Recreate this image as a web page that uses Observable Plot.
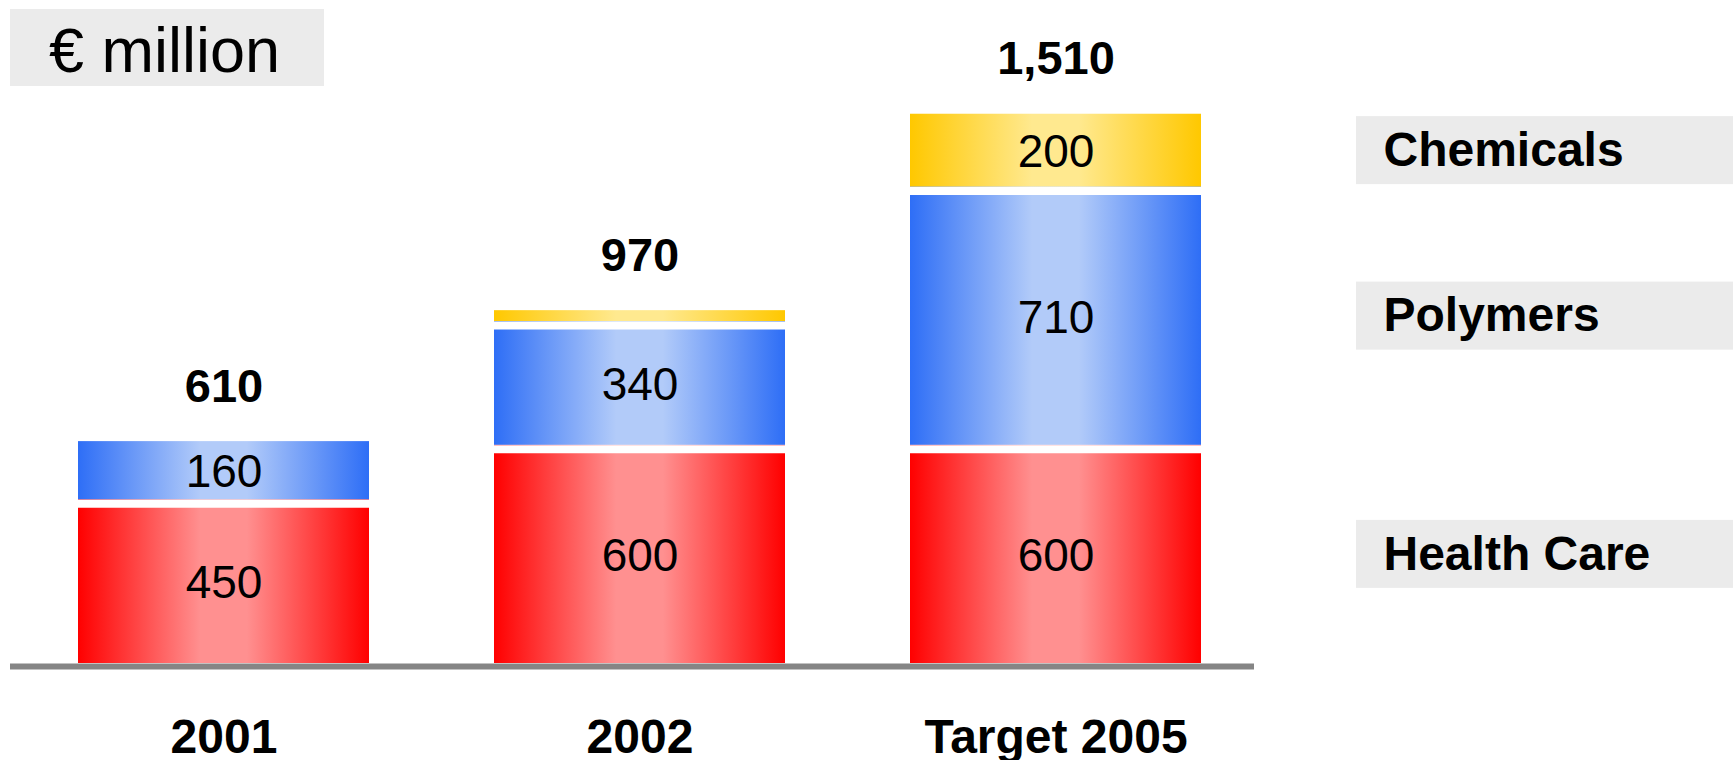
<!DOCTYPE html>
<html>
<head>
<meta charset="utf-8">
<script src="https://cdn.jsdelivr.net/npm/d3@7"></script>
<script src="https://cdn.jsdelivr.net/npm/@observablehq/plot@0.6"></script>
<style>
  html, body { margin: 0; padding: 0; background: #fff; }
  #chart { width: 1733px; height: 760px; }
  svg { font-family: "Liberation Sans", Arial, sans-serif; }
</style>
</head>
<body>
<div id="chart"></div>
<script>
// ---- data ----
const years = ["2001", "2002", "Target 2005"];
const segments = ["Health Care", "Polymers", "Chemicals"];
const healthCare = [450, 600, 600];
const polymers = [160, 340, 710];
const chemicals = [0, 30, 200];
const totals = ["610", "970", "1,510"];
const totalValues = [610, 970, 1510];
const unitLabel = "€ million";

const gradIds = {"Health Care": "gRed", "Polymers": "gBlue", "Chemicals": "gYellow"};
const gradStops = {
  gRed: ["#ff0000", "#ff9090"],
  gBlue: ["#2e6ef6", "#b2cbf9"],
  gYellow: ["#ffc800", "#ffe98f"]
};

const seriesValues = {"Health Care": healthCare, "Polymers": polymers, "Chemicals": chemicals};
const rows = [];
const boundaries = [];
years.forEach((yr, i) => {
  let cum = 0;
  segments.forEach((s, j) => {
    const v = seriesValues[s][i];
    rows.push({year: yr, segment: s, value: v});
    cum += v;
    const next = segments[j + 1];
    if (next && seriesValues[next][i] > 0) boundaries.push({year: yr, y: cum});
  });
});
const totalRows = years.map((yr, i) => ({year: yr, total: totalValues[i], label: totals[i]}));
const legendRows = rows.filter(d => d.year === "Target 2005");

const font = "'Liberation Sans', Arial, sans-serif";

const plot = Plot.plot({
  width: 1733,
  height: 760,
  marginLeft: 10,
  marginRight: 479,
  marginTop: 81,
  marginBottom: 97,
  style: {fontFamily: font, background: "#fff"},
  x: {domain: years, paddingInner: 0.3, paddingOuter: 0.142, align: 0.56, axis: null},
  y: {domain: [0, 1600], axis: null},
  marks: [
    Plot.barY(rows, Plot.stackY({
      x: "year", y: "value", z: "segment", order: segments,
      fill: d => `url(#${gradIds[d.segment]})`
    })),
    // white separators between stacked segments
    Plot.tickY(boundaries, {x: "year", y: "y", stroke: "white", strokeWidth: 8, dy: 4}),
    Plot.text(rows.filter(d => d.value >= 100), Plot.stackY({
      x: "year", y: "value", z: "segment", order: segments,
      text: d => String(d.value),
      fontSize: 46, fill: "black", dy: 2
    })),
    Plot.text(totalRows, {
      x: "year", y: "total", text: "label", dy: -55,
      fontSize: 47, fontWeight: "bold", fill: "black"
    }),
    Plot.axisX({tickSize: 0, tickPadding: 55, fontSize: 48, fontWeight: "bold", label: null}),
    Plot.ruleY([0], {stroke: "#858585", strokeWidth: 6, dy: 3}),
    Plot.text(legendRows, Plot.stackY({
      y: "value", z: "segment", order: segments,
      text: "segment", frameAnchor: "right", dx: 129, textAnchor: "start",
      fontSize: 48, fontWeight: "bold", fill: "black"
    }))
  ]
});

document.getElementById("chart").appendChild(plot);

// gradient definitions
const svg = d3.select(plot);
const defs = svg.insert("defs", ":first-child");
Object.entries(gradStops).forEach(([id, [edge, mid]]) => {
  const g = defs.append("linearGradient").attr("id", id).attr("x1", 0).attr("x2", 1).attr("y1", 0).attr("y2", 0);
  g.append("stop").attr("offset", "0%").attr("stop-color", edge);
  g.append("stop").attr("offset", "42%").attr("stop-color", mid);
  g.append("stop").attr("offset", "58%").attr("stop-color", mid);
  g.append("stop").attr("offset", "100%").attr("stop-color", edge);
});

// legend label boxes, positioned from the y scale (midpoints of the Target 2005 stack)
const yScale = plot.scale("y");
let cum = 0;
const legendBg = svg.insert("g", "defs + *");
legendRows.forEach(d => {
  const mid = yScale.apply(cum + d.value / 2);
  cum += d.value;
  legendBg.append("rect")
    .attr("x", 1356).attr("y", mid - 34).attr("width", 377).attr("height", 68)
    .attr("fill", "#ebebeb");
});
// unit label box
const unitG = svg.insert("g", "defs + *");
unitG.append("rect").attr("x", 10).attr("y", 9).attr("width", 314).attr("height", 77).attr("fill", "#ebebeb");
unitG.append("text").attr("x", 49).attr("y", 72)
  .attr("text-anchor", "start")
  .attr("font-family", font).attr("font-size", 63).attr("fill", "black")
  .text(unitLabel);
</script>
</body>
</html>
